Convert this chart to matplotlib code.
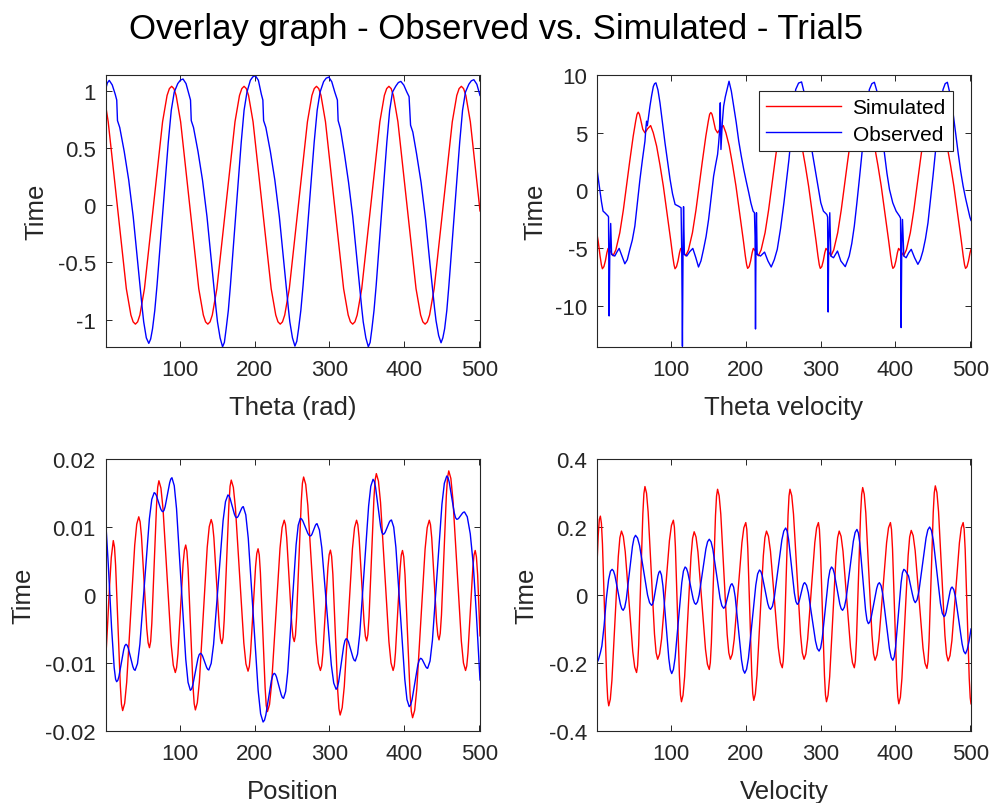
import matplotlib
matplotlib.use('Agg')
import matplotlib.pyplot as plt
import numpy as np

plt.rcParams['font.family'] = ['Liberation Sans', 'DejaVu Sans']
plt.rcParams['axes.unicode_minus'] = False

# ---------------- data: (time, value) ----------------
theta_sim = [
    (1, 0.88), (4.6, 0.73), (16.7, 0.0), (28.8, -0.73), (34.9, -0.96), (37.9, -1.02), (40.9, -1.04),
    (43.9, -1.02), (46.9, -0.96), (53.0, -0.73), (65.1, 0.0), (77.2, 0.73), (83.2, 0.96), (86.3, 1.02), (89.3, 1.04),
    (92.3, 1.02), (95.3, 0.96), (101.3, 0.73), (113.4, 0.0), (125.5, -0.73), (131.6, -0.96), (134.6, -1.02), (137.6, -1.04),
    (140.6, -1.02), (143.6, -0.96), (149.7, -0.73), (161.8, 0.0), (173.9, 0.73), (179.9, 0.96), (183.0, 1.02), (186.0, 1.04),
    (189.0, 1.02), (192.0, 0.96), (198.0, 0.73), (210.1, 0.0), (222.2, -0.73), (228.3, -0.96), (231.3, -1.02), (234.3, -1.04),
    (237.3, -1.02), (240.3, -0.96), (246.4, -0.73), (258.5, 0.0), (270.6, 0.73), (276.6, 0.96), (279.7, 1.02), (282.7, 1.04),
    (285.7, 1.02), (288.7, 0.96), (294.7, 0.73), (306.8, 0.0), (318.9, -0.73), (325.0, -0.96), (328.0, -1.02), (331.0, -1.04),
    (334.0, -1.02), (337.0, -0.96), (343.1, -0.73), (355.2, 0.0), (367.3, 0.73), (373.3, 0.96), (376.4, 1.02), (379.4, 1.04),
    (382.4, 1.02), (385.4, 0.96), (391.4, 0.73), (403.5, 0.0), (415.6, -0.73), (421.7, -0.96), (424.7, -1.02), (427.7, -1.04),
    (430.7, -1.02), (433.7, -0.96), (439.8, -0.73), (451.9, 0.0), (464.0, 0.73), (470.0, 0.96), (473.1, 1.02), (476.1, 1.04),
    (479.1, 1.02), (482.1, 0.96), (488.1, 0.73), (500.2, 0.0), (501, -0.05),
]

theta_obs = [
    (1, 1.01), (3.5, 1.07),
    (6.0, 1.092), (10.0, 1.052), (14.0, 0.97), (16.0, 0.92), (17.0, 0.74), (20.0, 0.68),
    (26.0, 0.47), (32.0, 0.22), (38.0, -0.10), (44.0, -0.50), (50.0, -0.90), (52.0, -1.02),
    (55.5, -1.16), (58.8, -1.208),
    (61.3, -1.17), (63.8, -1.08), (66.8, -0.92), (69.8, -0.70), (72.8, -0.45), (75.8, -0.20),
    (78.8, 0.05), (81.8, 0.30), (84.8, 0.55), (88.8, 0.83), (92.8, 0.99), (97.5, 1.064),
    (101.0, 1.094), (104.5, 1.104),
    (108.5, 1.064), (112.5, 0.97), (114.5, 0.92), (115.5, 0.74), (118.5, 0.68), (124.5, 0.47),
    (130.5, 0.22), (136.5, -0.10), (142.5, -0.50), (148.5, -0.90), (150.5, -1.02), (154.0, -1.16),
    (157.3, -1.238),
    (159.7, -1.20), (162.1, -1.08), (165.0, -0.92), (167.8, -0.70), (170.7, -0.45), (173.6, -0.20),
    (176.5, 0.05), (179.3, 0.30), (182.2, 0.55), (186.0, 0.83), (189.9, 0.99), (194.4, 1.093),
    (197.7, 1.123), (201.1, 1.133),
    (205.1, 1.093), (209.1, 0.97), (211.1, 0.92), (212.1, 0.74), (215.1, 0.68), (221.1, 0.47),
    (227.1, 0.22), (233.1, -0.10), (239.1, -0.50), (245.1, -0.90), (247.1, -1.02), (250.6, -1.16),
    (253.9, -1.232),
    (256.4, -1.19), (258.8, -1.08), (261.8, -0.92), (264.8, -0.70), (267.7, -0.45), (270.7, -0.20),
    (273.7, 0.05), (276.6, 0.30), (279.6, 0.55), (283.6, 0.83), (287.5, 0.99), (292.2, 1.081),
    (295.6, 1.111), (299.1, 1.121),
    (303.1, 1.08), (307.1, 0.99), (310.6, 0.92), (311.6, 0.74), (314.6, 0.67), (320.0, 0.45),
    (325.5, 0.20), (331.1, -0.10), (337.1, -0.50), (343.1, -0.90), (345.1, -1.02), (348.6, -1.16),
    (351.9, -1.238),
    (354.3, -1.20), (356.7, -1.08), (359.5, -0.92), (362.4, -0.70), (365.2, -0.45), (368.1, -0.20),
    (370.9, 0.05), (373.8, 0.30), (376.6, 0.55), (380.4, 0.83), (384.2, 0.99), (388.7, 1.043),
    (392.0, 1.073), (395.3, 1.083),
    (399.3, 1.05), (403.3, 0.99), (406.3, 0.95), (408.3, 0.70), (411.3, 0.64), (416.3, 0.45),
    (422.3, 0.20), (428.3, -0.12), (434.3, -0.52), (440.3, -0.90), (442.3, -1.01), (445.8, -1.14),
    (449.0, -1.203),
    (451.4, -1.16), (453.8, -1.08), (456.7, -0.92), (459.5, -0.70), (462.4, -0.45), (465.3, -0.20),
    (468.2, 0.05), (471.0, 0.30), (473.9, 0.55), (477.7, 0.83), (481.6, 0.99), (486.1, 1.058),
    (489.4, 1.088), (492.8, 1.098),
    (496.8, 1.058), (501, 0.96),
]

thetadot_sim = [
    (1, -3.8), (2.6, -4.4), (5.1, -5.68), (6.9, -6.45),
    (8.2, -6.78), (10.2, -6.6), (12.2, -6.1), (14.2, -5.4), (15.8, -5.02), (18.7, -5.25),
    (22.5, -5.66), (26.2, -5.15), (31.5, -3.66), (36.2, -1.7), (40.4, 0.37), (44.7, 2.5),
    (49.4, 4.7), (52.7, 6.0), (54.5, 6.6), (56.1, 6.78), (57.7, 6.6), (59.2, 6.2),
    (62.2, 5.3), (65.1, 4.99), (68.7, 5.35), (72.7, 5.62), (76.2, 5.0), (80.7, 3.84),
    (85.2, 2.2), (89.7, 0.37), (93.2, -1.3), (96.4, -2.8), (99.7, -4.4), (102.2, -5.68), (104.0, -6.45),
    (105.3, -6.78), (107.3, -6.6), (109.3, -6.1), (111.3, -5.4), (112.9, -5.02), (115.8, -5.25),
    (119.6, -5.66), (123.3, -5.15), (128.6, -3.66), (133.3, -1.7), (137.5, 0.37), (141.8, 2.5),
    (146.5, 4.7), (149.8, 6.0), (151.6, 6.6), (153.2, 6.75), (154.8, 6.6), (156.3, 6.2),
    (159.3, 5.3), (162.2, 4.99), (165.8, 5.35), (169.8, 5.62), (173.3, 5.0), (177.8, 3.84),
    (182.3, 2.2), (186.8, 0.37), (190.3, -1.3), (193.5, -2.8), (196.8, -4.4), (199.3, -5.68), (201.1, -6.45),
    (202.4, -6.75), (204.4, -6.6), (206.4, -6.1), (208.4, -5.4), (210.0, -5.02), (212.9, -5.25),
    (216.7, -5.66), (220.4, -5.15), (225.7, -3.66), (230.4, -1.7), (234.6, 0.37), (238.9, 2.5),
    (243.6, 4.7), (246.9, 6.0), (248.7, 6.6), (250.3, 6.75), (251.9, 6.6), (253.4, 6.2),
    (256.4, 5.3), (259.3, 4.99), (262.9, 5.35), (266.9, 5.62), (270.4, 5.0), (274.9, 3.84),
    (279.4, 2.2), (283.9, 0.37), (287.4, -1.3), (290.6, -2.8), (293.9, -4.4), (296.4, -5.68), (298.2, -6.45),
    (299.5, -6.75), (301.5, -6.6), (303.5, -6.1), (305.5, -5.4), (307.1, -5.02), (310.0, -5.25),
    (313.8, -5.66), (317.5, -5.15), (322.8, -3.66), (327.5, -1.7), (331.7, 0.37), (336.0, 2.5),
    (340.7, 4.7), (344.0, 6.0), (345.8, 6.6), (347.4, 6.75), (349.0, 6.6), (350.5, 6.2),
    (353.5, 5.3), (356.4, 4.99), (360.0, 5.35), (364.0, 5.62), (367.5, 5.0), (372.0, 3.84),
    (376.5, 2.2), (381.0, 0.37), (384.5, -1.3), (387.7, -2.8), (391.0, -4.4), (393.5, -5.68), (395.3, -6.45),
    (396.6, -6.75), (398.6, -6.6), (400.6, -6.1), (402.6, -5.4), (404.2, -5.02), (407.1, -5.25),
    (410.9, -5.66), (414.6, -5.15), (419.9, -3.66), (424.6, -1.7), (428.8, 0.37), (433.1, 2.5),
    (437.8, 4.7), (441.1, 6.0), (442.9, 6.6), (444.5, 6.75), (446.1, 6.6), (447.6, 6.2),
    (450.6, 5.3), (453.5, 4.99), (457.1, 5.35), (461.1, 5.62), (464.6, 5.0), (469.1, 3.84),
    (473.6, 2.2), (478.1, 0.37), (481.6, -1.3), (484.8, -2.8), (488.1, -4.4), (490.6, -5.68), (492.4, -6.45),
    (493.7, -6.75), (495.7, -6.6), (497.7, -6.1), (499.7, -5.4), (501, -5.1),
]

thetadot_obs = [
    (1, 1.82), (4.6, 0.09), (7.0, -1.0), (9.1, -1.79), (11.5, -1.93), (15.8, -2.22), (16.4, -2.3),
    (17.2, -10.87), (18.1, -5.5), (19.3, -2.86), (20.5, -5.54), (22.5, -5.62), (24.8, -5.68),
    (27.5, -5.35), (30.6, -5.02), (34.5, -5.7), (38.2, -6.35), (41.5, -6.0), (44.9, -5.1),
    (48.2, -4.3), (51.6, -3.09), (55.0, -1.1), (58.4, 0.95), (61.8, 2.7), (65.1, 4.27),
    (66.5, 5.5), (67.3, 6.0), (68.3, 5.6), (69.5, 6.2), (71.8, 7.3), (74.0, 8.2), (76.3, 9.0),
    (78.0, 9.25), (79.8, 9.32), (82.5, 8.7), (85.2, 7.59), (88.5, 5.9), (91.9, 4.12), (95.3, 2.5),
    (98.7, 0.95), (102.0, -0.3), (105.4, -1.21), (109.9, -1.36), (113.4, -1.5), (114.3, -5.5),
    (115.2, -13.5), (116.0, -5.5), (116.7, -1.4), (117.8, -5.54), (121.0, -5.68), (125.0, -5.3),
    (129.1, -5.02), (133.0, -5.8), (136.7, -6.63), (140.0, -6.1), (143.4, -5.1), (146.8, -4.0),
    (150.2, -2.51), (153.5, -0.7), (156.9, 1.24), (159.5, 2.2), (162.2, 3.12), (163.5, 4.0),
    (164.7, 5.0), (165.8, 7.59), (166.7, 3.55), (168.5, 5.86), (170.3, 7.3), (172.5, 8.1),
    (174.8, 8.74), (177.5, 9.46), (180.6, 8.6), (183.7, 7.3), (187.1, 5.9), (190.5, 4.27),
    (193.8, 3.0), (197.2, 1.82), (200.5, 0.8), (203.9, -0.2), (206.8, -1.1), (209.7, -1.79),
    (211.5, -1.93), (212.3, -4.0), (212.9, -12.0), (213.6, -4.0), (214.2, -1.93), (215.1, -5.54),
    (219.6, -5.68), (225.0, -5.34), (229.5, -6.1), (233.9, -6.63), (238.0, -6.0), (242.0, -5.1),
    (246.4, -3.3), (250.9, -1.07), (254.2, 0.8), (257.6, 2.68), (260.6, 4.7), (263.6, 6.8),
    (266.6, 8.74), (270.5, 9.3), (274.5, 9.4), (277.5, 8.6), (281.0, 7.0), (284.5, 5.3),
    (288.0, 3.6), (291.2, 2.39), (295.7, 0.66), (300.2, -1.07), (303.7, -1.79), (308.2, -2.08),
    (309.3, -2.3), (310.0, -10.53), (310.8, -4.5), (312.2, -1.93), (313.6, -5.68), (317.2, -5.83),
    (322.5, -5.25), (327.0, -6.11), (332.9, -6.6), (338.2, -5.68), (341.6, -4.6), (345.0, -3.09),
    (348.4, -1.1), (351.7, 0.95), (355.0, 3.1), (358.4, 5.28), (361.8, 7.2), (365.1, 8.74),
    (368.5, 9.25), (371.8, 9.37), (375.2, 8.6), (378.5, 7.3), (381.9, 5.3), (385.2, 3.26),
    (388.6, 1.5), (392.0, 0.09), (396.4, -1.07), (400.9, -1.79), (405.4, -2.22), (406.8, -2.4),
    (407.6, -11.88), (408.5, -4.5), (409.4, -2.51), (411.2, -5.68), (414.3, -5.83), (417.7, -5.4),
    (421.1, -5.1), (425.6, -5.83), (430.0, -6.4), (433.3, -6.0), (436.7, -5.25), (440.1, -4.2),
    (443.5, -2.8), (446.8, -0.8), (450.2, 1.24), (453.5, 3.4), (456.9, 5.57), (460.3, 7.4),
    (463.6, 8.74), (466.5, 9.25), (469.4, 9.37), (473.2, 8.3), (477.0, 6.72), (480.4, 5.0),
    (483.8, 3.26), (487.1, 1.7), (490.5, 0.37), (493.8, -0.7), (497.2, -1.64), (499.5, -2.3),
    (501, -2.6),
]

# position values in units of 1e-3
pos_sim_milli = [
    (1, -10.0), (3.5, -5.0), (6.0, 0.5), (8.7, 5.5), (11.4, 8.0),
    (13.0, 7.05), (14.5, 4.34), (17.65, -4.5), (20.8, -13.34), (22.3, -16.05), (23.9, -17.0),
    (26.6, -15.92), (29.3, -12.82), (34.65, -2.75), (40.0, 7.32), (42.7, 10.42), (45.4, 11.5),
    (47.2, 10.77), (49.0, 8.68), (52.55, 1.88), (56.1, -4.93), (57.9, -7.02), (59.7, -7.75),
    (61.3, -6.82), (62.85, -4.15), (66.0, 4.53), (69.15, 13.2), (70.7, 15.87), (72.3, 16.8),
    (75.0, 15.73), (77.8, 12.67), (83.25, 2.7), (88.7, -7.27), (91.5, -10.33), (94.2, -11.4),
    (95.9, -10.69), (97.7, -8.66), (101.15, -2.03), (104.6, 4.6), (106.4, 6.64), (108.1, 7.35),
    (109.7, 6.43), (111.3, 3.8), (114.55, -4.78), (117.8, -13.35), (119.4, -15.98), (121.0, -16.9),
    (123.6, -15.84), (126.3, -12.8), (131.55, -2.9), (136.8, 7.0), (139.5, 10.04), (142.1, 11.1),
    (143.9, 10.41), (145.7, 8.43), (149.25, 1.98), (152.8, -4.48), (154.6, -6.46), (156.4, -7.15),
    (158.0, -6.24), (159.5, -3.63), (162.65, 4.88), (165.8, 13.38), (167.3, 15.99), (168.9, 16.9),
    (171.7, 15.83), (174.5, 12.78), (180.1, 2.85), (185.7, -7.08), (188.5, -10.13), (191.3, -11.2),
    (193.0, -10.52), (194.65, -8.56), (198.0, -2.2), (201.35, 4.16), (203.0, 6.12), (204.7, 6.8),
    (206.3, 5.89), (207.8, 3.29), (210.95, -5.18), (214.1, -13.64), (215.6, -16.24), (217.2, -17.15),
    (220.0, -16.09), (222.8, -13.03), (228.4, -3.08), (234.0, 6.88), (236.8, 9.93), (239.6, 11.0),
    (241.3, 10.33), (242.95, 8.39), (246.3, 2.08), (249.65, -4.24), (251.3, -6.17), (253.0, -6.85),
    (254.6, -5.93), (256.1, -3.3), (259.25, 5.25), (262.4, 13.8), (263.9, 16.43), (265.5, 17.35),
    (268.3, 16.27), (271.1, 13.19), (276.7, 3.13), (282.3, -6.94), (285.1, -10.02), (287.9, -11.1),
    (289.6, -10.43), (291.25, -8.51), (294.6, -2.25), (297.95, 4.01), (299.6, 5.93), (301.3, 6.6),
    (302.9, 5.68), (304.55, 3.05), (307.8, -5.53), (311.05, -14.1), (312.7, -16.73), (314.3, -17.65),
    (317.0, -16.57), (319.8, -13.45), (325.25, -3.33), (330.7, 6.8), (333.5, 9.91), (336.2, 11.0),
    (337.9, 10.33), (339.6, 8.4), (342.95, 2.13), (346.3, -4.15), (348.0, -6.08), (349.7, -6.75),
    (351.3, -5.82), (352.9, -3.15), (356.15, 5.55), (359.4, 14.25), (361.0, 16.92), (362.6, 17.85),
    (365.4, 16.75), (368.2, 13.61), (373.8, 3.38), (379.4, -6.86), (382.2, -9.99), (385.0, -11.1),
    (386.6, -10.43), (388.1, -8.52), (391.25, -2.28), (394.4, 3.96), (395.9, 5.88), (397.5, 6.55),
    (399.2, 5.62), (400.9, 2.95), (404.25, -5.75), (407.6, -14.45), (409.3, -17.12), (411.0, -18.05),
    (413.8, -16.95), (416.6, -13.8), (422.15, -3.53), (427.7, 6.75), (430.5, 9.9), (433.3, 11.0),
    (434.9, 10.33), (436.55, 8.42), (439.8, 2.2), (443.05, -4.02), (444.7, -5.93), (446.3, -6.6),
    (447.9, -5.66), (449.55, -2.96), (452.8, 5.83), (456.05, 14.61), (457.7, 17.31), (459.3, 18.25),
    (462.1, 17.14), (464.9, 13.95), (470.5, 3.58), (476.1, -6.8), (478.9, -9.99), (481.7, -11.1),
    (483.3, -10.43), (484.9, -8.52), (488.15, -2.28), (491.4, 3.96), (493.0, 5.88), (494.6, 6.55),
    (496.2, 5.62), (497.85, 2.96), (501, -6.0),
]

pos_obs_milli = [
    (1, 11.4), (4.7, 4.5), (9.1, -4.8), (12.6, -10.7), (14.5, -12.4), (15.9, -12.75),
    (17.5, -12.54), (19.0, -11.94), (22.15, -10.0), (25.3, -8.06), (26.8, -7.46), (28.4, -7.25),
    (29.9, -7.4), (31.4, -7.81), (34.45, -9.17), (37.5, -10.52), (39.0, -10.94), (40.5, -11.08),
    (43.7, -10.09), (46.9, -7.25), (53.25, 1.99), (59.6, 11.22), (62.8, 14.06), (66.0, 15.05),
    (67.45, 14.94), (68.9, 14.64), (71.8, 13.65), (74.7, 12.66), (76.15, 12.36), (77.6, 12.25),
    (79.1, 12.44), (80.6, 12.98), (83.65, 14.75), (86.7, 16.52), (88.2, 17.06), (89.7, 17.25),
    (92.8, 16.07), (95.85, 12.67), (102.0, 1.62), (108.15, -9.44), (111.2, -12.84), (114.3, -14.02),
    (116.0, -13.81), (117.65, -13.22), (121.0, -11.3), (124.35, -9.38), (126.0, -8.79), (127.7, -8.58),
    (129.1, -8.68), (130.5, -8.94), (133.3, -9.81), (136.1, -10.67), (137.5, -10.93), (138.9, -11.03),
    (142.1, -10.05), (145.3, -7.26), (151.65, 1.84), (158.0, 10.94), (161.2, 13.73), (164.4, 14.71),
    (165.9, 14.58), (167.3, 14.22), (170.25, 13.04), (173.2, 11.86), (174.6, 11.5), (176.1, 11.37),
    (177.2, 11.43), (178.3, 11.61), (180.55, 12.18), (182.8, 12.75), (183.9, 12.93), (185.0, 12.99),
    (188.3, 11.79), (191.6, 8.35), (198.2, -2.85), (204.8, -14.04), (208.1, -17.48), (211.4, -18.68),
    (213.25, -18.41), (215.1, -17.63), (218.8, -15.1), (222.5, -12.57), (224.35, -11.79), (226.2, -11.52),
    (227.8, -11.66), (229.3, -12.06), (232.45, -13.36), (235.6, -14.66), (237.1, -15.06), (238.7, -15.2),
    (241.5, -14.2), (244.3, -11.33), (249.9, -1.97), (255.5, 7.39), (258.3, 10.26), (261.1, 11.27),
    (262.8, 11.18), (264.45, 10.89), (267.8, 9.98), (271.15, 9.06), (272.8, 8.78), (274.5, 8.68),
    (275.6, 8.75), (276.7, 8.95), (278.95, 9.59), (281.2, 10.23), (282.3, 10.42), (283.4, 10.49),
    (286.6, 9.56), (289.8, 6.92), (296.15, -1.69), (302.5, -10.3), (305.7, -12.94), (308.9, -13.87),
    (310.6, -13.59), (312.3, -12.78), (315.65, -10.15), (319.0, -7.51), (320.7, -6.7), (322.4, -6.42),
    (323.9, -6.55), (325.4, -6.9), (328.45, -8.07), (331.5, -9.23), (333.0, -9.59), (334.5, -9.71),
    (337.5, -8.69), (340.4, -5.8), (346.35, 3.65), (352.3, 13.1), (355.2, 15.99), (358.2, 17.01),
    (359.9, 16.71), (361.55, 15.83), (364.9, 12.97), (368.25, 10.11), (369.9, 9.23), (371.6, 8.92),
    (373.0, 9.0), (374.4, 9.23), (377.2, 9.98), (380.0, 10.73), (381.4, 10.95), (382.8, 11.03),
    (385.8, 9.99), (388.7, 7.01), (394.65, -2.7), (400.6, -12.4), (403.5, -15.38), (406.5, -16.42),
    (408.4, -16.15), (410.3, -15.38), (414.1, -12.87), (417.9, -10.35), (419.8, -9.59), (421.7, -9.31),
    (422.9, -9.37), (424.05, -9.53), (426.4, -10.05), (428.75, -10.57), (429.9, -10.73), (431.1, -10.78),
    (434.3, -9.71), (437.5, -6.64), (443.85, 3.36), (450.2, 13.36), (453.4, 16.43), (456.6, 17.5),
    (458.3, 17.26), (459.95, 16.57), (463.3, 14.32), (466.65, 12.07), (468.3, 11.37), (470.0, 11.13),
    (471.3, 11.17), (472.6, 11.29), (475.15, 11.67), (477.7, 12.05), (479.0, 12.17), (480.3, 12.21),
    (484.0, 11.5), (488.0, 9.0), (492.0, 4.5), (496.0, -2.5), (499.0, -8.5), (501, -12.5),
]

# velocity values in units of 1e-3
vel_sim_milli = [
    (1, 90), (2.6, 175), (4.1, 222), (5.5, 232),
    (6.9, 210.8), (8.3, 150.3), (11.1, -47), (13.9, -244.3), (15.3, -304.8), (16.7, -326),
    (18.8, -306.5), (20.95, -250.7), (25.2, -69), (29.45, 112.7), (31.6, 168.5), (33.7, 188),
    (36.2, 172.2), (38.75, 127.1), (43.8, -20), (48.85, -167.1), (51.4, -212.2), (53.9, -228),
    (55.3, -207.2), (56.7, -147.9), (59.5, 45.5), (62.3, 238.9), (63.7, 298.2), (65.1, 319),
    (67.2, 299.7), (69.35, 244.6), (73.6, 65), (77.85, -114.6), (80.0, -169.7), (82.1, -189),
    (84.7, -173.5), (87.35, -129.1), (92.6, 15.5), (97.85, 160.1), (100.5, 204.5), (103.1, 220),
    (104.45, 199.7), (105.8, 141.8), (108.5, -47), (111.2, -235.8), (112.55, -293.7), (113.9, -314),
    (116.0, -295), (118.15, -240.8), (122.4, -64), (126.65, 112.8), (128.8, 167), (130.9, 186),
    (133.4, 170.6), (135.95, 126.7), (141.0, -16.5), (146.05, -159.7), (148.6, -203.6), (151.1, -219),
    (152.5, -198.9), (153.9, -141.4), (156.65, 46), (159.4, 233.4), (160.8, 290.9), (162.2, 311),
    (164.3, 292), (166.5, 237.8), (170.75, 61), (175.0, -115.8), (177.2, -170), (179.3, -189),
    (181.9, -173.7), (184.45, -130.1), (189.6, 12), (194.75, 154.1), (197.3, 197.7), (199.9, 213),
    (201.25, 193.1), (202.6, 136.4), (205.25, -48.5), (207.9, -233.4), (209.25, -290.1), (210.6, -310),
    (212.7, -291.1), (214.85, -237), (219.1, -61), (223.35, 115), (225.5, 169.1), (227.6, 188),
    (230.2, 172.7), (232.9, 129.1), (238.15, -13), (243.4, -155.1), (246.1, -198.7), (248.7, -214),
    (250.0, -194.1), (251.3, -137.1), (253.85, 48.5), (256.4, 234.1), (257.7, 291.1), (259.0, 311),
    (261.35, 292), (263.7, 237.8), (268.4, 61), (273.1, -115.8), (275.45, -170), (277.8, -189),
    (280.2, -173.7), (282.6, -130.1), (287.4, 12), (292.2, 154.1), (294.6, 197.7), (297.0, 213),
    (298.35, 193), (299.7, 135.8), (302.4, -50.5), (305.1, -236.8), (306.45, -294), (307.8, -314),
    (309.9, -294.9), (312.05, -240.5), (316.3, -63), (320.55, 114.5), (322.7, 168.9), (324.8, 188),
    (327.3, 172.7), (329.85, 129.1), (334.9, -13), (339.95, -155.1), (342.5, -198.7), (345.0, -214),
    (346.4, -193.9), (347.8, -136.4), (350.6, 51), (353.4, 238.4), (354.8, 295.9), (356.2, 316),
    (358.25, 296.7), (360.35, 241.6), (364.45, 62), (368.6, -117.6), (370.65, -172.7), (372.7, -192),
    (375.3, -176.6), (377.85, -132.7), (383.0, 10.5), (388.15, 153.7), (390.7, 197.6), (393.3, 213),
    (394.7, 192.7), (396.1, 134.9), (398.9, -53.5), (401.7, -241.9), (403.1, -299.7), (404.5, -320),
    (406.6, -300.6), (408.65, -245.3), (412.8, -65), (416.95, 115.3), (419.0, 170.6), (421.1, 190),
    (423.7, 174.6), (426.35, 130.5), (431.6, -13), (436.85, -156.5), (439.5, -200.6), (442.1, -216),
    (443.5, -195.6), (444.9, -137.3), (447.7, 52.5), (450.5, 242.3), (451.9, 300.6), (453.3, 321),
    (455.45, 301.4), (457.6, 245.6), (461.85, 63.5), (466.15, -118.6), (468.25, -174.4), (470.4, -194),
    (472.9, -178.5), (475.45, -134.4), (480.45, 9.5), (485.5, 153.4), (488.0, 197.5), (490.5, 213),
    (491.85, 192.7), (493.2, 134.6), (495.9, -54.5), (498.6, -243.6), (499.95, -301.7), (501, -320),
]

vel_obs_milli = [
    (1, -199), (3.0, -190), (5.5, -170), (7.5, -150), (10.5, -90), (13.5, -10), (16.5, 45),
    (19.0, 70), (21.2, 75.5),
    (23.05, 70.9), (24.9, 57.8), (28.6, 15.2), (32.3, -27.4), (34.15, -40.5), (36.0, -45.1),
    (38.05, -36.7), (40.15, -12.8), (44.25, 65.2), (48.4, 143.2), (50.45, 167.1), (52.5, 175.5),
    (55.2, 167.7), (57.9, 145.4), (63.25, 72.6), (68.6, -0.3), (71.3, -22.6), (74.0, -30.4),
    (75.4, -26.6), (76.8, -15.6), (79.6, 20.1), (82.4, 55.8), (83.8, 66.8), (85.2, 70.6),
    (87.15, 59.1), (89.15, 26.4), (93.05, -80.2), (97.0, -186.8), (98.95, -219.5), (100.9, -231),
    (103.15, -219.1), (105.4, -185.1), (109.85, -74.3), (114.35, 36.5), (116.55, 70.5), (118.8, 82.4),
    (120.6, 78.3), (122.4, 66.3), (125.95, 27.5), (129.55, -11.4), (131.3, -23.3), (133.1, -27.5),
    (135.35, -20.2), (137.6, 0.6), (142.1, 68.3), (146.6, 135.9), (148.85, 156.7), (151.1, 164),
    (153.5, 156.3), (155.9, 134.3), (160.7, 62.5), (165.5, -9.3), (167.9, -31.3), (170.3, -39),
    (171.7, -36.3), (173.1, -28.4), (175.9, -2.9), (178.7, 22.7), (180.1, 30.6), (181.5, 33.3),
    (183.65, 23.3), (185.75, -5.3), (190.0, -98.4), (194.25, -191.5), (196.4, -220), (198.5, -230),
    (200.95, -218.5), (203.45, -185.6), (208.35, -78.3), (213.3, 29.1), (215.75, 62), (218.2, 73.5),
    (220.05, 69.2), (221.9, 56.6), (225.6, 15.7), (229.3, -25.3), (231.15, -37.9), (233.0, -42.2),
    (235.55, -33.1), (238.05, -7.2), (243.1, 77.4), (248.15, 162), (250.7, 187.9), (253.2, 197),
    (255.15, 188.5), (257.1, 164.2), (261.0, 84.8), (264.9, 5.4), (266.85, -19.0), (268.8, -27.5),
    (270.05, -25.1), (271.3, -18.2), (273.75, 4.4), (276.25, 27), (277.45, 33.9), (278.7, 36.3),
    (281.1, 28.7), (283.5, 6.8), (288.3, -64.4), (293.1, -135.5), (295.5, -157.4), (297.9, -165),
    (300.0, -155.6), (302.05, -128.8), (306.2, -41.3), (310.35, 46.2), (312.45, 73), (314.5, 82.4),
    (316.35, 77.6), (318.2, 63.8), (321.9, 18.7), (325.6, -26.5), (327.45, -40.3), (329.3, -45.1),
    (331.7, -36.1), (334.1, -10.2), (338.9, 74), (343.7, 158.2), (346.1, 184), (348.5, 193),
    (350.4, 182.5), (352.35, 152.4), (356.15, 54.4), (360.0, -43.7), (361.9, -73.8), (363.8, -84.3),
    (365.65, -79.7), (367.5, -66.6), (371.15, -24), (374.85, 18.6), (376.65, 31.7), (378.5, 36.3),
    (380.75, 27.7), (383.0, 2.9), (387.5, -77.9), (392.0, -158.6), (394.25, -183.4), (396.5, -192),
    (398.35, -181.9), (400.2, -152.9), (403.85, -58.3), (407.55, 36.3), (409.35, 65.3), (411.2, 75.5),
    (413.1, 72), (415.0, 65), (417.5, 56), (420.0, 30), (422.7, 2), (424.6, -15), (426.5, -22.5),
    (428.9, -14.1), (431.3, 10.1), (436.1, 88.8), (440.9, 167.5), (443.3, 191.6), (445.7, 200),
    (448.1, 190), (450.55, 161.4), (455.35, 68.2), (460.2, -25.1), (462.6, -53.7), (465.0, -63.7),
    (466.35, -60.4), (467.7, -50.9), (470.35, -20.1), (473.05, 10.7), (474.35, 20.2), (475.7, 23.5),
    (477.95, 16), (480.2, -5.3), (484.65, -74.8), (489.15, -144.2), (491.35, -165.5), (493.6, -173),
    (496.0, -160), (498.5, -135), (501, -100),
]

x_ticks = [100, 200, 300, 400, 500]
x_labels = ['Theta (rad)', 'Theta velocity', 'Position', 'Velocity']
y_ticks = [[-1, -0.5, 0, 0.5, 1], [-10, -5, 0, 5, 10],
           [-0.02, -0.01, 0, 0.01, 0.02], [-0.4, -0.2, 0, 0.2, 0.4]]
y_ticklabels = [['-1', '-0.5', '0', '0.5', '1'], ['-10', '-5', '0', '5', '10'],
                ['-0.02', '-0.01', '0', '0.01', '0.02'], ['-0.4', '-0.2', '0', '0.2', '0.4']]
y_limits = [(-1.24, 1.139), (-13.56, 10.0), (-0.02, 0.02), (-0.4, 0.4)]
series_names = ['Simulated', 'Observed']
title = 'Overlay graph - Observed vs. Simulated - Trial5'

# ---------------- drawing ----------------
def xy(points, scale=1.0):
    a = np.array(points, dtype=float)
    return a[:, 0], a[:, 1] * scale

sets = [
    (xy(theta_sim), xy(theta_obs)),
    (xy(thetadot_sim), xy(thetadot_obs)),
    (xy(pos_sim_milli, 1e-3), xy(pos_obs_milli, 1e-3)),
    (xy(vel_sim_milli, 1e-3), xy(vel_obs_milli, 1e-3)),
]

W, H = 993.0, 804.0
def box(l, t, r, b):
    return [l / W, 1 - b / H, (r - l) / W, (b - t) / H]

boxes = [box(105.5, 76, 480, 348), box(597, 76, 971, 348),
         box(105.5, 460, 480, 732), box(597, 460, 971, 732)]
ylabel_x = [-0.185, -0.165, -0.22, -0.19]

fig = plt.figure(figsize=(9.93, 8.04), dpi=100)
dark = '#262626'
for i in range(4):
    ax = fig.add_axes(boxes[i])
    (xs, ys), (xo, yo) = sets[i]
    ax.plot(xs, ys, color='#ff0000', lw=1.0, label=series_names[0])
    ax.plot(xo, yo, color='#0000ff', lw=1.0, label=series_names[1])
    ax.set_xlim(1, 501)
    ax.set_ylim(*y_limits[i])
    ax.set_xticks(x_ticks)
    ax.set_xticklabels([str(t) for t in x_ticks])
    ax.set_yticks(y_ticks[i])
    ax.set_yticklabels(y_ticklabels[i])
    ax.tick_params(direction='in', length=4, width=0.7, top=True, right=True,
                   labelsize=16, colors=dark, pad=7)
    ax.tick_params(axis='x', pad=9)
    for s in ax.spines.values():
        s.set_color(dark)
        s.set_linewidth(0.8)
    ax.set_xlabel(x_labels[i], fontsize=18.5, color=dark)
    ax.xaxis.set_label_coords(0.5, -0.22)
    ax.xaxis.label.set_va('center')
    ax.set_ylabel('Time', fontsize=18.5, color=dark)
    ax.yaxis.set_label_coords(ylabel_x[i], 0.5)
    ax.yaxis.label.set_va('center')
    if i == 1:
        leg = ax.legend(loc='upper right', bbox_to_anchor=(0.952, 0.941), fontsize=15,
                        fancybox=False, framealpha=1, edgecolor=dark, handlelength=3.6,
                        handletextpad=0.55, borderpad=0.35, labelspacing=0.35,
                        borderaxespad=0)
        leg.get_frame().set_linewidth(0.8)

fig.text(0.5, 1 - 30 / H, title, ha='center', va='center', fontsize=25, color='black')
fig.savefig('out.png', dpi=100)
